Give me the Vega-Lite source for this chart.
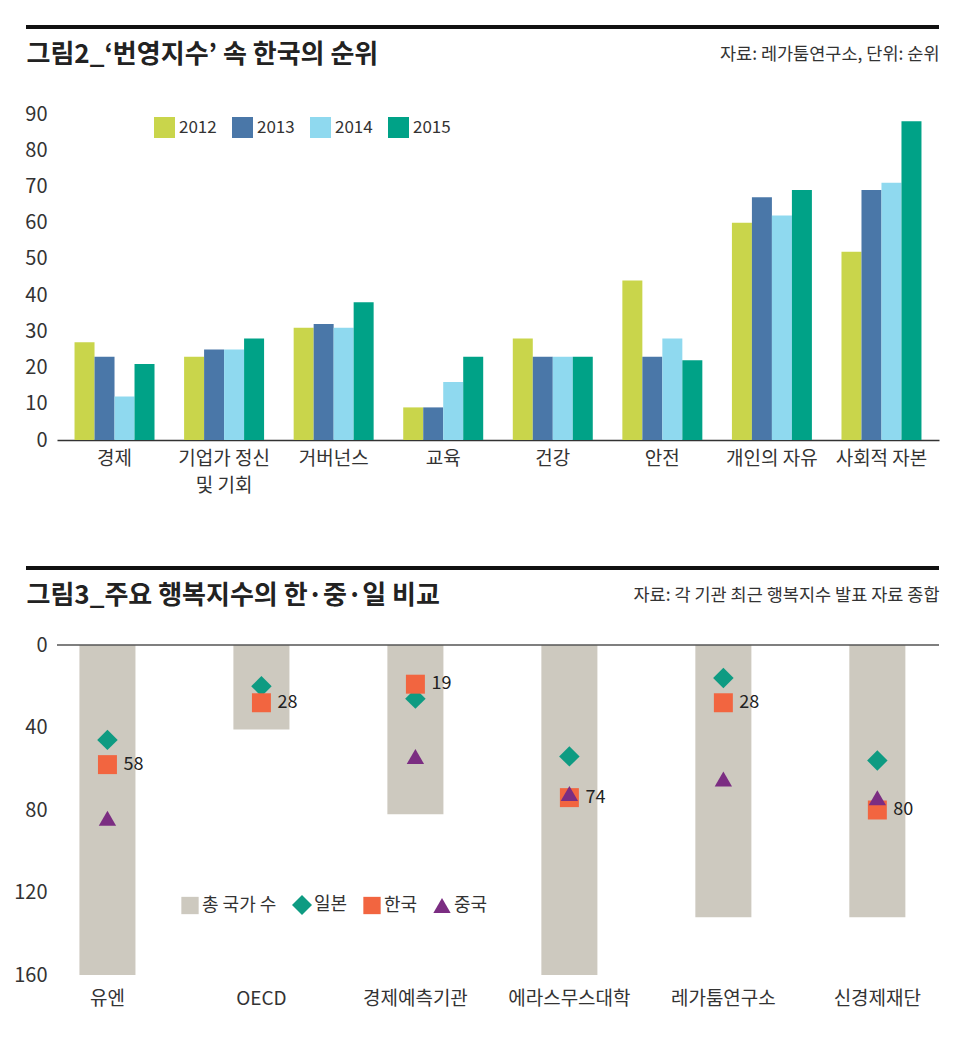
{
  "$schema": "https://vega.github.io/schema/vega-lite/v6.json",
  "background": "white",
  "padding": {"left": 13, "top": 25, "right": 30, "bottom": 5},
  "config": {
    "font": "Noto Sans CJK KR",
    "view": {"stroke": null}
  },
  "datasets": {
    "bars": [
      {"category": "경제", "year": "2012", "rank": 27},
      {"category": "경제", "year": "2013", "rank": 23},
      {"category": "경제", "year": "2014", "rank": 12},
      {"category": "경제", "year": "2015", "rank": 21},
      {"category": "기업가 정신 및 기회", "year": "2012", "rank": 23},
      {"category": "기업가 정신 및 기회", "year": "2013", "rank": 25},
      {"category": "기업가 정신 및 기회", "year": "2014", "rank": 25},
      {"category": "기업가 정신 및 기회", "year": "2015", "rank": 28},
      {"category": "거버넌스", "year": "2012", "rank": 31},
      {"category": "거버넌스", "year": "2013", "rank": 32},
      {"category": "거버넌스", "year": "2014", "rank": 31},
      {"category": "거버넌스", "year": "2015", "rank": 38},
      {"category": "교육", "year": "2012", "rank": 9},
      {"category": "교육", "year": "2013", "rank": 9},
      {"category": "교육", "year": "2014", "rank": 16},
      {"category": "교육", "year": "2015", "rank": 23},
      {"category": "건강", "year": "2012", "rank": 28},
      {"category": "건강", "year": "2013", "rank": 23},
      {"category": "건강", "year": "2014", "rank": 23},
      {"category": "건강", "year": "2015", "rank": 23},
      {"category": "안전", "year": "2012", "rank": 44},
      {"category": "안전", "year": "2013", "rank": 23},
      {"category": "안전", "year": "2014", "rank": 28},
      {"category": "안전", "year": "2015", "rank": 22},
      {"category": "개인의 자유", "year": "2012", "rank": 60},
      {"category": "개인의 자유", "year": "2013", "rank": 67},
      {"category": "개인의 자유", "year": "2014", "rank": 62},
      {"category": "개인의 자유", "year": "2015", "rank": 69},
      {"category": "사회적 자본", "year": "2012", "rank": 52},
      {"category": "사회적 자본", "year": "2013", "rank": 69},
      {"category": "사회적 자본", "year": "2014", "rank": 71},
      {"category": "사회적 자본", "year": "2015", "rank": 88}
    ],
    "totals": [
      {"agency": "유엔", "series": "총 국가 수", "value": 160},
      {"agency": "OECD", "series": "총 국가 수", "value": 41},
      {"agency": "경제예측기관", "series": "총 국가 수", "value": 82},
      {"agency": "에라스무스대학", "series": "총 국가 수", "value": 160},
      {"agency": "레가툼연구소", "series": "총 국가 수", "value": 132},
      {"agency": "신경제재단", "series": "총 국가 수", "value": 132}
    ],
    "ranks": [
      {"agency": "유엔", "series": "일본", "value": 46},
      {"agency": "OECD", "series": "일본", "value": 20},
      {"agency": "경제예측기관", "series": "일본", "value": 26},
      {"agency": "에라스무스대학", "series": "일본", "value": 54},
      {"agency": "레가툼연구소", "series": "일본", "value": 16},
      {"agency": "신경제재단", "series": "일본", "value": 56},
      {"agency": "유엔", "series": "한국", "value": 58},
      {"agency": "OECD", "series": "한국", "value": 28},
      {"agency": "경제예측기관", "series": "한국", "value": 19},
      {"agency": "에라스무스대학", "series": "한국", "value": 74},
      {"agency": "레가툼연구소", "series": "한국", "value": 28},
      {"agency": "신경제재단", "series": "한국", "value": 80},
      {"agency": "유엔", "series": "중국", "value": 84},
      {"agency": "경제예측기관", "series": "중국", "value": 54},
      {"agency": "에라스무스대학", "series": "중국", "value": 72},
      {"agency": "레가툼연구소", "series": "중국", "value": 65},
      {"agency": "신경제재단", "series": "중국", "value": 74}
    ]
  },
  "spacing": 71,
  "resolve": {
    "scale": {"color": "independent", "x": "independent", "y": "independent", "shape": "independent", "size": "independent"},
    "legend": {"color": "independent", "shape": "independent"}
  },
  "vconcat": [
    {
      "spacing": 12,
      "vconcat": [
        {
          "width": 882,
          "height": 4,
          "data": {"values": [{}]},
          "mark": {"type": "rect", "color": "#111111"},
          "encoding": {
            "x": {"datum": 0, "type": "quantitative", "scale": {"domain": [0, 1], "range": [-31, 882]}, "axis": null},
            "x2": {"datum": 1}
          }
        },
        {
          "width": 882,
          "height": 326,
          "data": {"name": "bars"},
          "mark": {"type": "bar"},
          "encoding": {
            "x": {
              "field": "category",
              "type": "nominal",
              "scale": {
                "domain": ["경제", "기업가 정신 및 기회", "거버넌스", "교육", "건강", "안전", "개인의 자유", "사회적 자본"],
                "paddingInner": 0.27,
                "paddingOuter": 0.16
              },
              "axis": {
                "title": "자료: 레가툼연구소, 단위: 순위",
                "titleX": 882,
                "titleY": -386,
                "titleAlign": "right",
                "titleBaseline": "middle",
                "titleFontSize": 17.5,
                "titleFontWeight": "normal",
                "titleColor": "#333333",
                "labelAngle": 0,
                "labelFontSize": 19,
                "labelColor": "#333333",
                "labelPadding": 9,
                "labelLineHeight": 27,
                "labelExpr": "datum.label == '기업가 정신 및 기회' ? ['기업가 정신', '및 기회'] : datum.label",
                "ticks": false,
                "domainColor": "#333333",
                "domainWidth": 1.5
              }
            },
            "xOffset": {"field": "year", "type": "nominal", "scale": {"paddingInner": 0, "paddingOuter": 0}},
            "y": {
              "field": "rank",
              "type": "quantitative",
              "scale": {"domain": [0, 90], "nice": false},
              "axis": {
                "title": "그림2_‘번영지수’ 속 한국의 순위",
                "titleAngle": 0,
                "titleAlign": "left",
                "titleBaseline": "middle",
                "titleX": -31,
                "titleY": -60,
                "titleFontSize": 26,
                "titleFontWeight": "bold",
                "titleColor": "#222222",
                "values": [0, 10, 20, 30, 40, 50, 60, 70, 80, 90],
                "grid": false,
                "domain": false,
                "ticks": false,
                "labelFontSize": 20,
                "labelColor": "#333333",
                "labelPadding": 10
              }
            },
            "color": {
              "field": "year",
              "type": "nominal",
              "scale": {"domain": ["2012", "2013", "2014", "2015"], "range": ["#c9d54b", "#4a77a8", "#8fd9ef", "#00a287"]},
              "legend": {
                "title": null,
                "orient": "none",
                "legendX": 97,
                "legendY": 92,
                "direction": "horizontal",
                "symbolType": "square",
                "symbolSize": 441,
                "symbolStrokeWidth": 0,
                "labelFontSize": 17,
                "labelColor": "#333333",
                "columnPadding": 15,
                "labelOffset": 4
              }
            }
          }
        }
      ]
    },
    {
      "spacing": 12,
      "vconcat": [
        {
          "width": 882,
          "height": 4,
          "data": {"values": [{}]},
          "mark": {"type": "rect", "color": "#111111"},
          "encoding": {
            "x": {"datum": 0, "type": "quantitative", "scale": {"domain": [0, 1], "range": [-31, 882]}, "axis": null},
            "x2": {"datum": 1}
          }
        },
        {
          "width": 882,
          "height": 330,
          "layer": [
            {
              "data": {"name": "totals"},
              "mark": {"type": "bar"},
              "encoding": {
                "x": {
                  "field": "agency",
                  "type": "nominal",
                  "scale": {
                    "domain": ["유엔", "OECD", "경제예측기관", "에라스무스대학", "레가툼연구소", "신경제재단"],
                    "paddingInner": 0.636,
                    "paddingOuter": 0.182,
                    "align": 0.4
                  },
                  "axis": {
                    "title": "자료: 각 기관 최근 행복지수 발표 자료 종합",
                    "titleX": 882,
                    "titleY": -380,
                    "titleAlign": "right",
                    "titleBaseline": "middle",
                    "titleFontSize": 17.5,
                    "titleFontWeight": "normal",
                    "titleColor": "#333333",
                    "labelAngle": 0,
                    "labelFontSize": 19,
                    "labelColor": "#333333",
                    "labelPadding": 14,
                    "ticks": false,
                    "domain": false
                  }
                },
                "y": {
                  "field": "value",
                  "type": "quantitative",
                  "scale": {"domain": [0, 160], "nice": false, "reverse": true},
                  "axis": {
                    "title": "그림3_주요 행복지수의 한·중·일 비교",
                    "titleAngle": 0,
                    "titleAlign": "left",
                    "titleBaseline": "middle",
                    "titleX": -31,
                    "titleY": -50,
                    "titleFontSize": 26,
                    "titleFontWeight": "bold",
                    "titleColor": "#222222",
                    "values": [0, 40, 80, 120, 160],
                    "grid": false,
                    "domain": false,
                    "ticks": false,
                    "labelFontSize": 20,
                    "labelColor": "#333333",
                    "labelPadding": 10
                  }
                },
                "color": {
                  "field": "series",
                  "type": "nominal",
                  "scale": {"domain": ["총 국가 수", "일본", "한국", "중국"], "range": ["#cdc9bf", "#0e9b82", "#f26540", "#7b2d82"]},
                  "legend": {
                    "title": null,
                    "orient": "none",
                    "legendX": 124,
                    "legendY": 330,
                    "direction": "horizontal",
                    "symbolSize": 300,
                    "symbolStrokeWidth": 0,
                    "labelFontSize": 18,
                    "labelColor": "#333333",
                    "columnPadding": 15,
                    "labelOffset": 3,
                    "encode": {
                      "symbols": {
                        "update": {
                          "shape": {"signal": "datum.value == '일본' ? 'diamond' : datum.value == '중국' ? 'triangle-up' : 'square'"},
                          "size": {"signal": "datum.value == '일본' ? 400 : 300"},
                          "opacity": {"value": 1},
                          "fillOpacity": {"value": 1}
                        }
                      }
                    }
                  }
                }
              }
            },
            {
              "data": {"values": [{}]},
              "mark": {"type": "rule", "color": "#555555", "strokeWidth": 1.5},
              "encoding": {"y": {"datum": 0}}
            },
            {
              "data": {"name": "ranks"},
              "mark": {"type": "point", "filled": true, "opacity": 1, "strokeWidth": 0},
              "encoding": {
                "x": {"field": "agency", "type": "nominal"},
                "y": {"field": "value", "type": "quantitative"},
                "color": {"field": "series", "type": "nominal"},
                "shape": {
                  "field": "series",
                  "type": "nominal",
                  "scale": {"domain": ["총 국가 수", "일본", "한국", "중국"], "range": ["square", "diamond", "square", "triangle-up"]},
                  "legend": null
                },
                "size": {
                  "field": "series",
                  "type": "nominal",
                  "scale": {"domain": ["일본", "한국", "중국"], "range": [420, 300, 320]},
                  "legend": null
                }
              }
            },
            {
              "data": {"name": "ranks"},
              "transform": [{"filter": "datum.series == '한국'"}],
              "mark": {"type": "text", "align": "left", "baseline": "middle", "dx": 16, "fontSize": 18, "color": "#222222"},
              "encoding": {
                "x": {"field": "agency", "type": "nominal"},
                "y": {"field": "value", "type": "quantitative"},
                "text": {"field": "value", "type": "quantitative"}
              }
            }
          ]
        }
      ]
    }
  ]
}
